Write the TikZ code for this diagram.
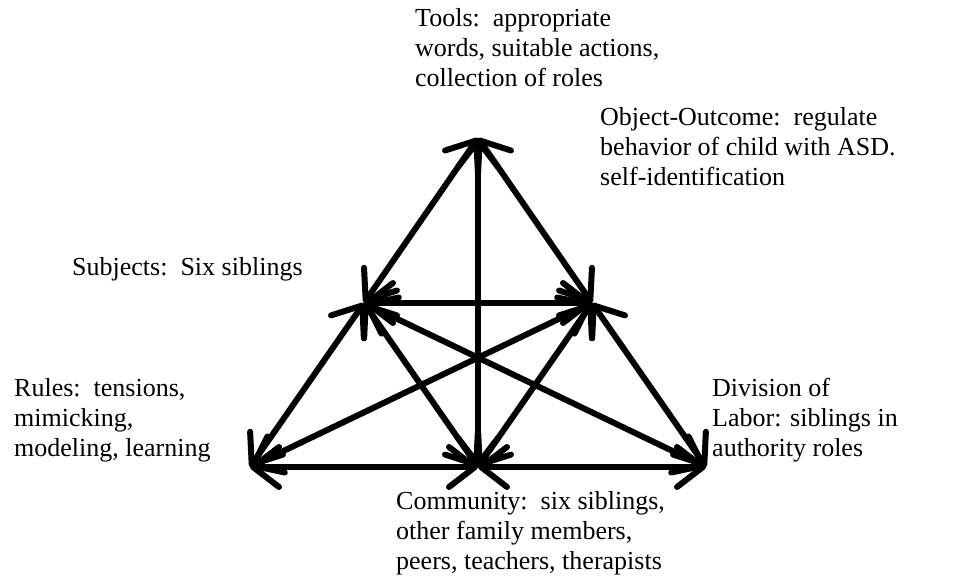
\documentclass[tikz,border=0pt]{standalone}
\usepackage{fontspec}
\setmainfont{Liberation Serif}
\usetikzlibrary{arrows.meta,positioning}

\begin{document}
\begin{tikzpicture}[x=1pt, y=-1pt,
    link/.style={line width=6pt, line cap=round, {Straight Barb[length=26pt,width=40pt,line width=6pt,round]}-{Straight Barb[length=26pt,width=40pt,line width=6pt,round]}},
    lbl/.style={anchor=base west, align=left, inner sep=0pt, font=\fontsize{26}{30}\selectfont}]
    \useasboundingbox (0,0) rectangle (974,584);
    \coordinate (tools) at (478,138);
    \coordinate (subj) at (364,303);
    \coordinate (obj) at (592,303);
    \coordinate (rules) at (250,467);
    \coordinate (comm) at (478,467);
    \coordinate (div) at (706,467);

    \draw [link] (tools) -- (subj);
    \draw [link] (tools) -- (obj);
    \draw [link] (tools) -- (comm);
    \draw [link] (subj) -- (obj);
    \draw [link] (subj) -- (rules);
    \draw [link] (subj) -- (comm);
    \draw [link] (subj) -- (div);
    \draw [link] (obj) -- (rules);
    \draw [link] (obj) -- (comm);
    \draw [link] (obj) -- (div);
    \draw [link] (rules) -- (comm);
    \draw [link] (comm) -- (div);

    \node [lbl] (toolsLbl) at (415,86) {Tools:\ \ appropriate\\words, suitable actions,\\collection of roles};
    \node [lbl] (objLbl) at (600,185) {Object-Outcome:\ \ regulate\\behavior of child with ASD.\\self-identification};
    \node [lbl] (subjLbl) at (72,275) {Subjects:\ \ Six siblings};
    \node [lbl] (rulesLbl) at (14,456) {Rules:\ \ tensions,\\mimicking,\\modeling, learning};
    \node [lbl] (divLbl) at (712,456) {Division of\\Labor: siblings in\\authority roles};
    \node [lbl] (commLbl) at (396,569) {Community:\ \ six siblings,\\other family members,\\peers, teachers, therapists};
\end{tikzpicture}
\end{document}
